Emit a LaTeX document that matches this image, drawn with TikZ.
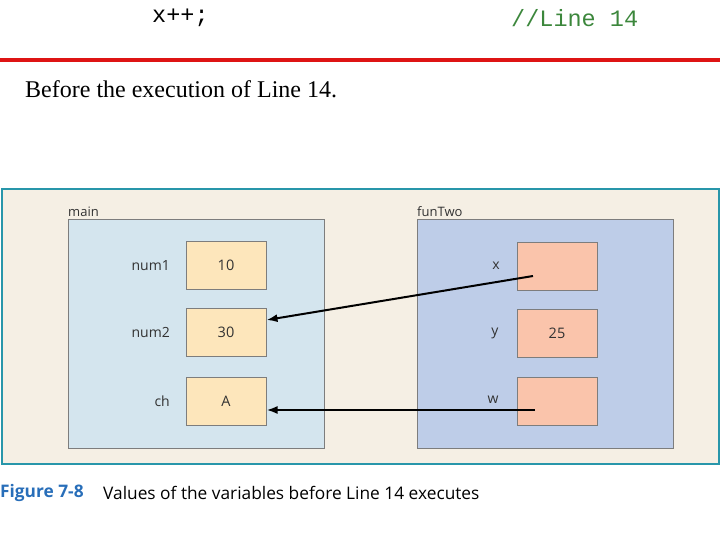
\documentclass[tikz,border=0pt]{standalone}
\usepackage{fontspec}
\setmainfont{Liberation Serif}
\setsansfont{Open Sans}
\setmonofont{Liberation Mono}
\usetikzlibrary{arrows.meta}
\definecolor{codegreen}{RGB}{60,135,60}
\definecolor{redline}{RGB}{222,20,20}
\definecolor{figbg}{RGB}{245,239,228}
\definecolor{figborder}{RGB}{40,150,170}
\definecolor{mainfill}{RGB}{212,229,238}
\definecolor{funfill}{RGB}{190,205,232}
\definecolor{cellA}{RGB}{253,230,187}
\definecolor{cellB}{RGB}{250,196,171}
\definecolor{framegray}{RGB}{125,125,125}
\definecolor{capblue}{RGB}{40,110,185}
\definecolor{txtgray}{RGB}{50,50,50}
\tikzset{
  frame/.style={draw=framegray, line width=1.2pt, anchor=north west, inner sep=0pt},
  cellbox/.style={draw=framegray, line width=1pt, minimum width=80pt, minimum height=48pt, inner sep=0pt, font=\sffamily\fontsize{14.5}{16}\selectfont, text=txtgray},
  varlabel/.style={font=\sffamily\fontsize{14}{16}\selectfont, text=txtgray, anchor=east, inner sep=0pt},
  framelabel/.style={font=\sffamily\fontsize{13}{15}\selectfont, text=txtgray, anchor=base west, inner sep=0pt},
  ptr/.style={line width=2pt, -{Latex[length=11pt,width=8pt]}}
}
\begin{document}
\begin{tikzpicture}[x=1pt,y=-1pt]
\useasboundingbox (0,0) rectangle (720,540);
% code line
\node[font=\ttfamily\fontsize{23.5}{26}\selectfont, anchor=west, inner sep=0pt] (code) at (152,18) {x++;};
\node[font=\ttfamily\fontsize{23.5}{26}\selectfont, text=codegreen, anchor=west, inner sep=0pt] (comment) at (511,18) {//Line 14};
% red rule
\coordinate (rl) at (0,60);
\coordinate (rr) at (720,60);
\draw[redline, line width=4pt] (rl) -- (rr);
\node[font=\fontsize{24}{28}\selectfont, anchor=west, inner sep=0pt] (before) at (25,89) {Before the execution of Line 14.};
% figure background
\node[draw=figborder, fill=figbg, line width=2pt, anchor=north west, minimum width=717pt, minimum height=275pt, inner sep=0pt] (fig) at (1,188) {};
% frames
\node[frame, fill=mainfill, minimum width=256pt, minimum height=229pt] (main) at (68,219) {};
\node[frame, fill=funfill, minimum width=256pt, minimum height=229pt] (fun) at (417,219) {};
\node[framelabel] (mainlbl) at (68,216) {main};
\node[framelabel] (funlbl) at (417,216) {funTwo};
% main cells
\node[cellbox, fill=cellA] (num1) at (226,265.5) {10};
\node[cellbox, fill=cellA] (num2) at (226,332) {30};
\node[cellbox, fill=cellA] (ch) at (226,401) {A};
\node[varlabel] (lnum1) at (170,265.5) {num1};
\node[varlabel] (lnum2) at (170,332) {num2};
\node[varlabel] (lch) at (170,401) {ch};
% funTwo cells
\node[cellbox, fill=cellB] (x) at (557,266.5) {};
\node[cellbox, fill=cellB] (y) at (557,333) {25};
\node[cellbox, fill=cellB] (w) at (557,401) {};
\node[varlabel, anchor=center] (lx) at (496,266) {x};
\node[varlabel, anchor=center] (ly) at (495,333) {y};
\node[varlabel, anchor=center] (lw) at (493,400) {w};
% pointers
\coordinate (xs) at (533,276);
\coordinate (ws) at (535,410);
\draw[ptr] (xs) -- (num2.east |- 0,320);
\draw[ptr] (ws) -- (ch.east |- ws);
% caption
\node[font=\sffamily\bfseries\fontsize{17.3}{19}\selectfont, text=capblue, anchor=west, inner sep=0pt] (figno) at (0,493) {Figure 7-8};
\node[font=\sffamily\fontsize{17.3}{19}\selectfont, anchor=west, inner sep=0pt] (cap) at (103,493) {Values of the variables before Line 14 executes};
\end{tikzpicture}
\end{document}
